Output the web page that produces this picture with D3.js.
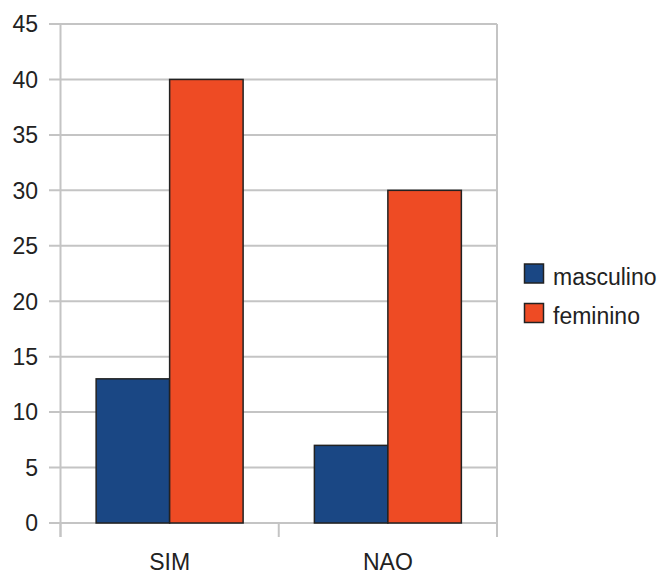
<!DOCTYPE html>
<html><head><meta charset="utf-8">
<script src="https://cdn.jsdelivr.net/npm/d3@7"></script>
<style>body{margin:0;background:#fff}svg{display:block}text{font-family:"Liberation Sans",Arial,sans-serif;fill:#222}</style>
</head><body><svg id="c" width="665" height="574"></svg>
<script>
const categories = ["SIM", "NAO"];
const seriesNames = ["masculino", "feminino"];
const masculino = [13, 7];
const feminino = [40, 30];
const yTicks = [0, 5, 10, 15, 20, 25, 30, 35, 40, 45];
const colors = ["#1a4784", "#ee4b24"];

const svg = d3.select("#c");
const L = 60.5, R = 497, T = 24, B = 523;
const x = d3.scaleBand().domain(categories).range([L, R]);
const xs = d3.scaleBand().domain(seriesNames).range([0, x.bandwidth()]).paddingInner(0).paddingOuter(0.485);
const y = d3.scaleLinear().domain([0, 45]).range([B, T]);
const gray = "#c4c4c4";

svg.append("g").selectAll("line").data(yTicks).join("line")
  .attr("x1", 49).attr("x2", R).attr("y1", d => y(d)).attr("y2", d => y(d))
  .attr("stroke", gray).attr("stroke-width", 2);
svg.append("line").attr("x1", L).attr("x2", L).attr("y1", T).attr("y2", B + 14).attr("stroke", gray).attr("stroke-width", 2);
const xt = [L, (L + R) / 2, R];
svg.append("g").selectAll("line").data(xt).join("line")
  .attr("x1", d => d).attr("x2", d => d).attr("y1", B).attr("y2", B + 14)
  .attr("stroke", gray).attr("stroke-width", 2);
svg.append("line").attr("x1", R).attr("x2", R).attr("y1", T).attr("y2", B).attr("stroke", gray).attr("stroke-width", 2);

svg.append("g").selectAll("text").data(yTicks).join("text")
  .attr("x", 38).attr("y", d => y(d)).attr("dy", "0.36em").attr("text-anchor", "end")
  .attr("font-size", 23).text(d => d);
svg.append("g").selectAll("text").data(categories).join("text")
  .attr("x", d => x(d) + x.bandwidth() / 2).attr("y", 570).attr("text-anchor", "middle")
  .attr("font-size", 23).text(d => d);

const data = [masculino, feminino];
seriesNames.forEach((s, si) => {
  svg.append("g").selectAll("rect").data(categories).join("rect")
    .attr("x", c => x(c) + xs(s)).attr("width", xs.bandwidth())
    .attr("y", (c, i) => y(data[si][i])).attr("height", (c, i) => B - y(data[si][i]))
    .attr("fill", colors[si]).attr("stroke", "#222").attr("stroke-width", 1.5);
});

const lg = svg.append("g");
seriesNames.forEach((s, i) => {
  const yy = 264 + i * 39.5;
  lg.append("rect").attr("x", 524.5).attr("y", yy).attr("width", 19).attr("height", 19)
    .attr("fill", colors[i]).attr("stroke", "#222").attr("stroke-width", 1.5);
  lg.append("text").attr("x", 553).attr("y", yy + 20.5).attr("font-size", 23).text(s);
});
</script></body></html>
